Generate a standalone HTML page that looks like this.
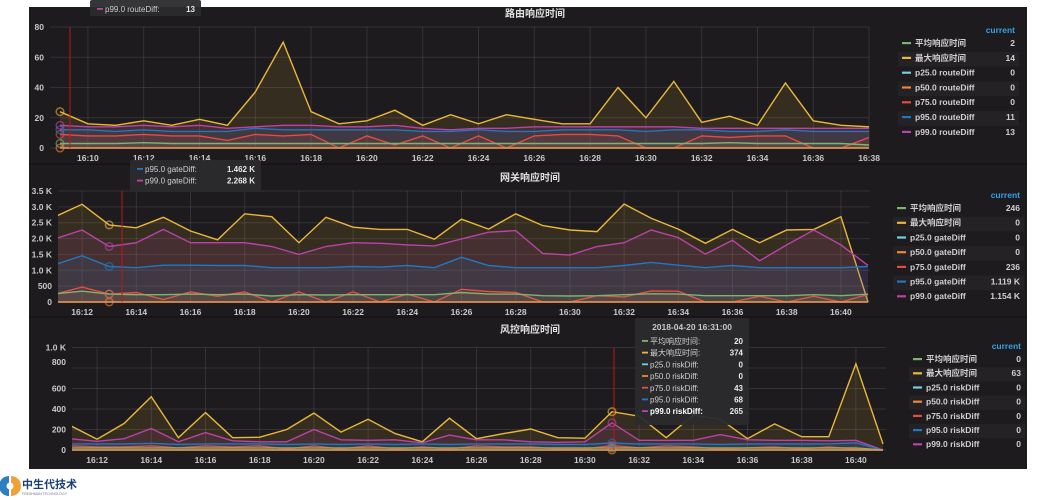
<!DOCTYPE html>
<html><head><meta charset="utf-8"><style>
html,body{margin:0;padding:0;background:#fff;width:1043px;height:500px;overflow:hidden}
svg{display:block;font-family:"Liberation Sans","Noto Sans CJK SC",sans-serif}
</style></head><body>
<svg id="c" width="1043" height="500" xmlns="http://www.w3.org/2000/svg">
<rect x="29" y="7" width="998" height="462" fill="#1d1b1d"/>
<line x1="29" y1="164" x2="1027" y2="164" stroke="#111"/>
<line x1="29" y1="317" x2="1027" y2="317" stroke="#111"/>
<g id="logo">
<path d="M9 476 A10 10 0 0 0 9 496 Z" fill="#2a7fc4"/>
<path d="M11 476 A10 10 0 0 1 11 496 Z" fill="#f0a23a"/>
<circle cx="10" cy="486" r="3.5" fill="#fff"/>
<text x="22" y="488" font-size="11" font-weight="bold" fill="#1b3f78">中生代技术</text>
<text x="22" y="495" font-size="3.5" fill="#778">FRESHMAN TECHNOLOGY</text>
</g>
</svg>
<script>
// ---------- Panel 1: 路由响应时间 ----------
const p1Minutes = [9,10,11,12,13,14,15,16,17,18,19,20,21,22,23,24,25,26,27,28,29,30,31,32,33,34,35,36,37,38];
const p1Avg  = [3,3,3,3.5,3,3,3,3,3,3,3,3,3,3,3,3,3,3,3,3,3,3,3,3,3.5,3,3,3,3,2];
const p1Max  = [24,16,15,18,15,19,15,37,70,24,16,18,25,15,22,16,22,19,16,16,40,20,44,17,21,15,43,18,15,14];
const p1P25  = [0,0,0,0,0,0,0,0,0,0,0,0,0,0,0,0,0,0,0,0,0,0,0,0,0,0,0,0,0,0];
const p1P50  = [0,0,0,0,0,0,0,0,0,0,0,0,0,0,0,0,0,0,0,0,0,0,0,0,0,0,0,0,0,0];
const p1P75  = [9,8,8,9,8,8,5,9,8,9,0,8,2,8,0,8,0,8,9,9,8,0,0,8,7,8,8,0,0,7];
const p1P95  = [12,12,11,12,11,11,11,13,12,12,12,12,12,11,11,12,11,11,12,12,12,11,12,12,11,11,12,11,11,11];
const p1P99  = [15,14,14,15,14,15,13,14,15,15,14,14,15,13,12,13,13,14,14,14,14,14,14,13,13,13,13,13,13,13];
const p1XTicks = ["16:10","16:12","16:14","16:16","16:18","16:20","16:22","16:24","16:26","16:28","16:30","16:32","16:34","16:36","16:38"];
const p1YTicks = [0,20,40,60,80];
const p1YLabels = ["0","20","40","60","80"];
const p1Names = ["平均响应时间","最大响应时间","p25.0 routeDiff","p50.0 routeDiff","p75.0 routeDiff","p95.0 routeDiff","p99.0 routeDiff"];
const p1Current = ["2","14","0","0","0","11","13"];

// ---------- Panel 2: 网关响应时间 ----------
const p2Minutes = [11,12,13,14,15,16,17,18,19,20,21,22,23,24,25,26,27,28,29,30,31,32,33,34,35,36,37,38,39,40,41];
const p2Avg  = [260,340,250,230,230,250,230,250,190,230,220,230,230,230,230,300,250,250,200,190,200,230,260,250,200,200,200,200,230,200,246];
const p2Max  = [2690,3080,2430,2340,2670,2240,1960,2780,2690,1870,2670,2360,2290,2290,1980,2610,2300,2780,2410,2270,2220,3090,2640,2300,1850,2290,1870,2270,2290,2690,0];
const p2P25  = [0,0,0,0,0,0,0,0,0,0,0,0,0,0,0,0,0,0,0,0,0,0,0,0,0,0,0,0,0,0,0];
const p2P50  = [0,0,0,0,0,0,0,0,0,0,0,0,0,0,0,0,0,0,0,0,0,0,0,0,0,0,0,0,0,0,0];
const p2P75  = [250,470,250,300,80,320,180,320,0,320,0,320,0,250,0,400,330,300,0,0,200,160,350,340,0,0,180,0,180,0,236];
const p2P95  = [1180,1460,1120,1080,1160,1160,1150,1150,1080,1080,1080,1120,1100,1150,1080,1410,1150,1080,1080,1080,1080,1150,1250,1160,1080,1150,1080,1080,1080,1080,1119];
const p2P99  = [1990,2270,1750,1870,2290,1870,1870,1870,1750,1500,1750,1870,1850,1800,1770,1990,2200,2250,1530,1480,1750,1870,2270,2030,1510,1950,1300,1800,2270,1800,1154];
const p2XTicks = ["16:12","16:14","16:16","16:18","16:20","16:22","16:24","16:26","16:28","16:30","16:32","16:34","16:36","16:38","16:40"];
const p2YTicks = [0,500,1000,1500,2000,2500,3000,3500];
const p2YLabels = ["0","500","1.0 K","1.5 K","2.0 K","2.5 K","3.0 K","3.5 K"];
const p2Names = ["平均响应时间","最大响应时间","p25.0 gateDiff","p50.0 gateDiff","p75.0 gateDiff","p95.0 gateDiff","p99.0 gateDiff"];
const p2Current = ["246","0","0","0","236","1.119 K","1.154 K"];

// ---------- Panel 3: 风控响应时间 ----------
const p3Minutes = [11,12,13,14,15,16,17,18,19,20,21,22,23,24,25,26,27,28,29,30,31,32,33,34,35,36,37,38,39,40,41];
const p3Avg  = [20,20,20,20,20,20,20,20,20,20,20,20,20,20,20,20,20,20,20,20,20,20,20,20,20,20,20,20,20,20,0];
const p3Max  = [240,105,260,520,120,365,120,125,200,360,175,300,160,80,310,110,160,205,120,115,374,330,120,340,300,110,255,130,130,840,60];
const p3P25  = [0,0,0,0,0,0,0,0,0,0,0,0,0,0,0,0,0,0,0,0,0,0,0,0,0,0,0,0,0,0,0];
const p3P50  = [0,0,0,0,0,0,0,0,0,0,0,0,0,0,0,0,0,0,0,0,0,0,0,0,0,0,0,0,0,0,0];
const p3P75  = [40,30,30,40,20,40,30,40,10,40,10,40,10,30,10,40,30,30,10,10,43,20,40,30,10,20,30,10,30,10,0];
const p3P95  = [60,60,60,65,55,60,60,60,55,60,55,60,55,60,55,60,60,60,55,55,68,60,60,60,55,60,60,60,60,70,0];
const p3P99  = [110,85,110,210,80,170,90,80,80,200,100,95,100,70,145,100,100,80,75,80,265,95,95,95,150,100,95,95,90,95,0];
const p3XTicks = ["16:12","16:14","16:16","16:18","16:20","16:22","16:24","16:26","16:28","16:30","16:32","16:34","16:36","16:38","16:40"];
const p3YTicks = [0,200,400,600,800,1000];
const p3YLabels = ["0","200","400","600","800","1.0 K"];
const p3Names = ["平均响应时间","最大响应时间","p25.0 riskDiff","p50.0 riskDiff","p75.0 riskDiff","p95.0 riskDiff","p99.0 riskDiff"];
const p3Current = ["0","63","0","0","0","0","0"];

const COLORS = ["#7eb26d","#eab839","#6ed0e0","#ef843c","#e24d42","#1f78c1","#ba43a9"];
const NS = "http://www.w3.org/2000/svg";
const svg = document.getElementById("c");
function el(tag, attrs, parent) {
  const e = document.createElementNS(NS, tag);
  for (const k in attrs) e.setAttribute(k, attrs[k]);
  (parent || svg).appendChild(e);
  return e;
}
function txt(x, y, s, attrs, parent) {
  const t = el("text", Object.assign({x: x, y: y}, attrs), parent);
  t.textContent = s;
  return t;
}

function drawPanel(cfg) {
  const g = el("g", {});
  
  
  const xs = m => cfg.x0 + (m - cfg.m0) * cfg.ppm;
  const ys = v => cfg.yBase - (v / cfg.yMax) * (cfg.yBase - cfg.yTop);
  const title = txt(cfg.titleX, cfg.titleY, cfg.title, {"font-size": 10, "font-weight": "bold", fill: "#e0e0e0", "text-anchor": "middle"}, g);
  
  
  cfg.yTicks.forEach((v, i) => {
    const y = ys(v);
    el("line", {x1: cfg.left, x2: cfg.right, y1: y, y2: y, stroke: "#ffffff", "stroke-opacity": 0.1}, g);
    const ly = (cfg.yLabelOverride && cfg.yLabelOverride[i] != null) ? cfg.yLabelOverride[i] : y;
    const lab = txt(cfg.left - 6, ly + 3, cfg.yLabels[i], {"font-size": 8.5, "font-weight": "bold", fill: "#c8c8c8", "text-anchor": "end"}, g);
    
    
  });
  cfg.xTicks.forEach(s => {
    const parts = s.split(":");
    const m = (+parts[0] - 16) * 60 + (+parts[1]);
    const x = xs(m);
    el("line", {x1: x, x2: x, y1: cfg.yTop, y2: cfg.yBase, stroke: "#ffffff", "stroke-opacity": 0.1}, g);
    const lab = txt(x, cfg.yBase + 13, s, {"font-size": 8.5, "font-weight": "bold", fill: "#c8c8c8", "text-anchor": "middle"}, g);
    
    
  });
  const cid = cfg.name + "-clip";
  const cp = el("clipPath", {id: cid}, g);
  el("rect", {x: cfg.left, y: cfg.yTop - 60, width: cfg.right - cfg.left, height: cfg.yBase - cfg.yTop + 62}, cp);
  const sg = el("g", {"clip-path": "url(#" + cid + ")"}, g);
  const order = [1, 6, 5, 4, 0, 2, 3];
  order.forEach(si => {
    const vals = cfg.series[si];
    let d = "";
    cfg.minutes.forEach((m, i) => { d += (i ? "L" : "M") + xs(m).toFixed(1) + "," + ys(vals[i]).toFixed(1); });
    const x1 = xs(cfg.minutes[0]).toFixed(1), x2 = xs(cfg.minutes[cfg.minutes.length - 1]).toFixed(1);
    const area = el("path", {d: d + "L" + x2 + "," + cfg.yBase + "L" + x1 + "," + cfg.yBase + "Z", fill: COLORS[si], "fill-opacity": 0.12, stroke: "none"}, sg);
    
    
    const line = el("path", {d: d, fill: "none", stroke: COLORS[si], "stroke-width": 1.4}, sg);
    
    
  });
  const hx = xs(cfg.hoverMin);
  const vl = el("line", {x1: cfg.crossX, x2: cfg.crossX, y1: cfg.yTop, y2: cfg.yBase, stroke: "#c0161a", "stroke-width": 1}, g);
  
  
  const hi = cfg.minutes.indexOf(cfg.hoverMin);
  [0,1,3,4,5,6].forEach(si => {
    const c = el("circle", {cx: hx, cy: ys(cfg.series[si][hi]), r: 3.8, fill: "none", stroke: COLORS[si], "stroke-opacity": 0.6, "stroke-width": 1.5}, g);
    
    
  });
  const cur = txt(cfg.legValX, cfg.legY0 - 13, "current", {"font-size": 8.5, "font-weight": "bold", fill: "#33a2e5", "text-anchor": "end"}, g);
  
  
  cfg.names.forEach((n, i) => {
    const y = cfg.legY0 + i * cfg.legDy;
    const lg = el("g", {}, g);
    
    
    if (i % 2 == 1) el("rect", {x: cfg.legDashX - 4, y: y - 9, width: cfg.legValX - cfg.legDashX + 8, height: cfg.legDy, fill: "#ffffff", "fill-opacity": 0.03}, lg);
    el("rect", {x: cfg.legDashX, y: y - 4, width: 9, height: 2.2, fill: COLORS[i]}, lg);
    txt(cfg.legDashX + 13, y, n, {"font-size": 8.5, "font-weight": "bold", fill: "#d0d0d0"}, lg);
    txt(cfg.legValX, y, cfg.current[i], {"font-size": 8.5, "font-weight": "bold", fill: "#d0d0d0", "text-anchor": "end"}, lg);
  });
}

drawPanel({name: "route-panel", title: "路由响应时间", titleX: 535, titleY: 17,
  minutes: p1Minutes, series: [p1Avg, p1Max, p1P25, p1P50, p1P75, p1P95, p1P99],
  m0: 9, x0: 60, ppm: 27.9, left: 50, right: 869, yTop: 27, yBase: 148, yMax: 80,
  xTicks: p1XTicks, yTicks: p1YTicks, yLabels: p1YLabels, names: p1Names, current: p1Current,
  hoverMin: 9, crossX: 70, legDashX: 902, legValX: 1015, legY0: 46, legDy: 14.8});
drawPanel({name: "gateway-panel", title: "网关响应时间", titleX: 530, titleY: 181,
  minutes: p2Minutes, series: [p2Avg, p2Max, p2P25, p2P50, p2P75, p2P95, p2P99],
  m0: 11, x0: 55, ppm: 27.1, left: 58, right: 870, yTop: 191, yBase: 302, yMax: 3500,
  xTicks: p2XTicks, yTicks: p2YTicks, yLabels: p2YLabels, names: p2Names, current: p2Current,
  hoverMin: 13, crossX: 122, legDashX: 897, legValX: 1020, legY0: 211, legDy: 14.7});
drawPanel({name: "risk-panel", title: "风控响应时间", titleX: 530, titleY: 333,
  minutes: p3Minutes, series: [p3Avg, p3Max, p3P25, p3P50, p3P75, p3P95, p3P99],
  m0: 11, x0: 70, ppm: 27.1, left: 72, right: 886, yTop: 347.5, yBase: 450, yMax: 1000,
  xTicks: p3XTicks, yTicks: p3YTicks, yLabels: p3YLabels, yLabelOverride: [null,null,null,null,362,null], names: p3Names, current: p3Current,
  hoverMin: 31, crossX: 614, legDashX: 913, legValX: 1021, legY0: 362, legDy: 14.2});

function tooltip(name, x, y, w, h, header, rows) {
  const g = el("g", {});
  
  
  el("rect", {x: x, y: y, width: w, height: h, rx: 2, fill: "#2b2b2e", "fill-opacity": 0.95}, g);
  let yy = y + 12;
  if (header) { txt(x + w / 2, yy, header, {"font-size": 8.5, "font-weight": "bold", fill: "#c8c8c8", "text-anchor": "middle"}, g); yy += 14; }
  rows.forEach(r => {
    el("rect", {x: x + 7, y: yy - 4, width: 6, height: 1.8, fill: r[0]}, g);
    txt(x + 15, yy, r[1], {"font-size": 8, "font-weight": r[3] ? "bold" : "normal", fill: r[3] ? "#fff" : "#d0d0d0"}, g);
    txt(x + w - 6, yy, r[2], {"font-size": 8, "font-weight": "bold", fill: "#e8e8e8", "text-anchor": "end"}, g);
    yy += 11.7;
  });
  return g;
}
tooltip("gateway-tooltip", 130, 160, 131, 32, null, [["#1f78c1","p95.0 gateDiff:","1.462 K"],["#ba43a9","p99.0 gateDiff:","2.268 K"]]);
tooltip("risk-tooltip", 635, 318, 114, 107, "2018-04-20 16:31:00", [
  ["#7eb26d","平均响应时间:","20"],["#eab839","最大响应时间:","374"],["#6ed0e0","p25.0 riskDiff:","0"],
  ["#ef843c","p50.0 riskDiff:","0"],["#e24d42","p75.0 riskDiff:","43"],["#1f78c1","p95.0 riskDiff:","68"],
  ["#ba43a9","p99.0 riskDiff:","265",true]]);
const topMargin = el("rect", {x: 0, y: 0, width: 1043, height: 7, fill: "#fff"});


tooltip("route-tooltip", 90, 0, 111, 16, null, [["#ba43a9","p99.0 routeDiff:","13"]]);
</script>
</body></html>
